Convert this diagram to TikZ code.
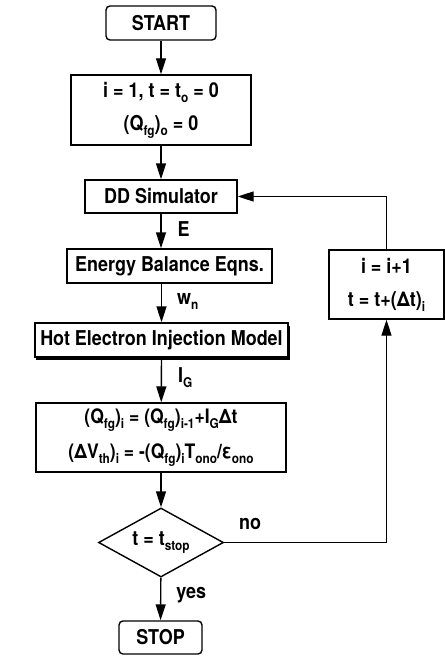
\documentclass[tikz,border=0pt]{standalone}
\usepackage{fontspec}
\setmainfont{TeX Gyre Heros}[FakeStretch=0.88]
\usetikzlibrary{arrows.meta,shapes.geometric,shadows}

% lowered subscript
\newcommand\lo[1]{\raisebox{-0.45ex}{\fontsize{13.5}{13.5}\selectfont #1}}

\begin{document}
\begin{tikzpicture}[x=1bp, y=-1bp,
    font=\fontsize{20.5}{33}\selectfont\bfseries,
    every node/.style={inner sep=0pt},
    box/.style={draw, line width=1.4bp, minimum height=33bp, align=center},
    term/.style={box, rounded corners=4bp},
    lbl/.style={anchor=west},
    flow/.style={line width=1.4bp, -{Triangle[length=16bp, width=10bp]}}]
  \useasboundingbox (0,0) rectangle (445,660);

  % main column
  \node[term, minimum width=110bp, minimum height=34bp] (start) at (161,23) {START};
  \node[box, minimum width=180bp, minimum height=70bp] (init) at (161,110)
    {i = 1, t = t\lo{o} = 0\\(Q\lo{fg})\lo{o} = 0};
  \node[box, minimum width=152bp] (dd) at (161,196.5) {DD Simulator};
  \node[box, minimum width=205bp, minimum height=34bp] (energy) at (169.5,266) {Energy Balance Eqns.};
  \node[box, minimum width=253bp, minimum height=34bp,
    drop shadow={shadow xshift=1.5bp, shadow yshift=-2.5bp, opacity=1, fill=black}, fill=white]
    (hot) at (161.5,340) {Hot Electron Injection Model};
  \node[box, minimum width=250bp, minimum height=69bp, font=\fontsize{20}{35}\selectfont\bfseries] (upd) at (161,437.5)
    {(Q\lo{fg})\lo{i} = (Q\lo{fg})\lo{i-1}+I\lo{G}Δt\\(ΔV\lo{th})\lo{i} = -(Q\lo{fg})\lo{i}T\lo{ono}/ε\lo{ono}};
  \node[draw, line width=1.4bp, diamond, aspect=1.8, minimum width=125bp, minimum height=69bp] (test) at (161,542.5)
    {t = t\lo{stop}};
  \node[term, minimum width=83bp] (stop) at (160.5,637.5) {STOP};

  % loop box
  \node[box, minimum width=115bp, minimum height=69bp] (incr) at (386.5,284.5)
    {i = i+1\\t = t+(Δt)\lo{i}};

  % connectors
  \draw[flow] (start) -- (init);
  \draw[flow] (init) -- (dd);
  \draw[flow] (dd) -- (dd |- energy.north) node[lbl, pos=0.45, xshift=16bp] {E};
  \draw[flow] (hot.north |- energy.south) -- (hot) node[lbl, pos=0.45, xshift=15bp] {w\lo{n}};
  \draw[flow] (hot.south) -- (upd) node[lbl, pos=0.45, xshift=16bp] {I\lo{G}};
  \draw[flow] (upd) -- (test);
  \draw[flow] (test) -- (stop) node[lbl, pos=0.4, xshift=15bp] {yes};
  \draw[flow] (test.east) -| (incr.south) node[pos=0.08, yshift=19bp] {no};
  \draw[flow] (incr.north) |- (dd.east);
\end{tikzpicture}
\end{document}
